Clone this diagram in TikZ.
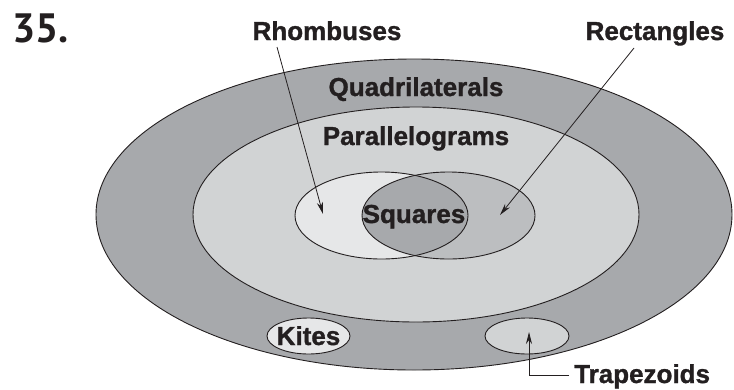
\documentclass[tikz,border=0pt]{standalone}
\usepackage{fontspec}
\setmainfont{Liberation Sans}[BoldFeatures={FakeBold=1.2}]
\newfontfamily\numfont{PT Sans}
\usetikzlibrary{arrows.meta}
\definecolor{quadg}{HTML}{A7A9AC}
\definecolor{parag}{HTML}{D1D3D4}
\definecolor{rhombg}{HTML}{E6E7E8}
\definecolor{rectg}{HTML}{BCBEC0}
\definecolor{squareg}{HTML}{A7A9AC}
\definecolor{inkc}{HTML}{231F20}
\begin{document}
\begin{tikzpicture}[x=1pt,y=-1pt,
  lbl/.style={font=\fontsize{26}{28}\selectfont\bfseries, text=inkc, inner sep=0pt, anchor=base},
  setline/.style={line width=0.9pt, draw=inkc},
  arr/.style={line width=0.8pt, draw=inkc, -{Stealth[length=12pt,width=6pt]}}]
\useasboundingbox (0,0) rectangle (734,389);
% Quadrilaterals
\draw[setline, fill=quadg] (414,214.5) ellipse [x radius=318, y radius=155.5];
% Parallelograms
\draw[setline, fill=parag] (416,214.5) ellipse [x radius=223, y radius=107.5];
% Rhombuses and rectangles
\fill[rhombg] (381.5,215.5) ellipse [x radius=86.5, y radius=43.5];
\fill[rectg] (448.5,215.5) ellipse [x radius=86.5, y radius=43.5];
\begin{scope}
  \clip (381.5,215.5) ellipse [x radius=86.5, y radius=43.5];
  \fill[squareg] (448.5,215.5) ellipse [x radius=86.5, y radius=43.5];
\end{scope}
\draw[setline] (381.5,215.5) ellipse [x radius=86.5, y radius=43.5];
\draw[setline] (448.5,215.5) ellipse [x radius=86.5, y radius=43.5];
% Kites and trapezoids
\draw[setline, fill=rhombg] (308.5,336) ellipse [x radius=41.5, y radius=18];
\draw[setline, fill=parag] (527,336) ellipse [x radius=42, y radius=18];
% labels
\node[inner sep=0pt, anchor=base west, text=inkc, font=\numfont\fontsize{41}{44}\selectfont\bfseries] (num) at (12,42) {35.};
\node[lbl] (rhomb) at (327,40) {Rhombuses};
\node[lbl] (rect) at (655,40) {Rectangles};
\node[lbl] (quad) at (416,96) {Quadrilaterals};
\node[lbl] (para) at (416,145) {Parallelograms};
\node[lbl] (sq) at (414,223) {Squares};
\node[lbl] (kite) at (308.5,345) {Kites};
\node[lbl, anchor=base west] (trap) at (574,383) {Trapezoids};
% arrows
\coordinate (rhombtip) at (323,214);
\coordinate (recttip) at (500,215);
\coordinate (traptip) at (529,332);
\coordinate (rhombstart) at (277,47);
\coordinate (rectstart) at (634,48);
\coordinate (trapstart) at (569,375);
\draw[arr] (rhombstart) -- (rhombtip);
\draw[arr] (rectstart) -- (recttip);
\draw[arr] (trapstart) -| (traptip);
\end{tikzpicture}
\end{document}
